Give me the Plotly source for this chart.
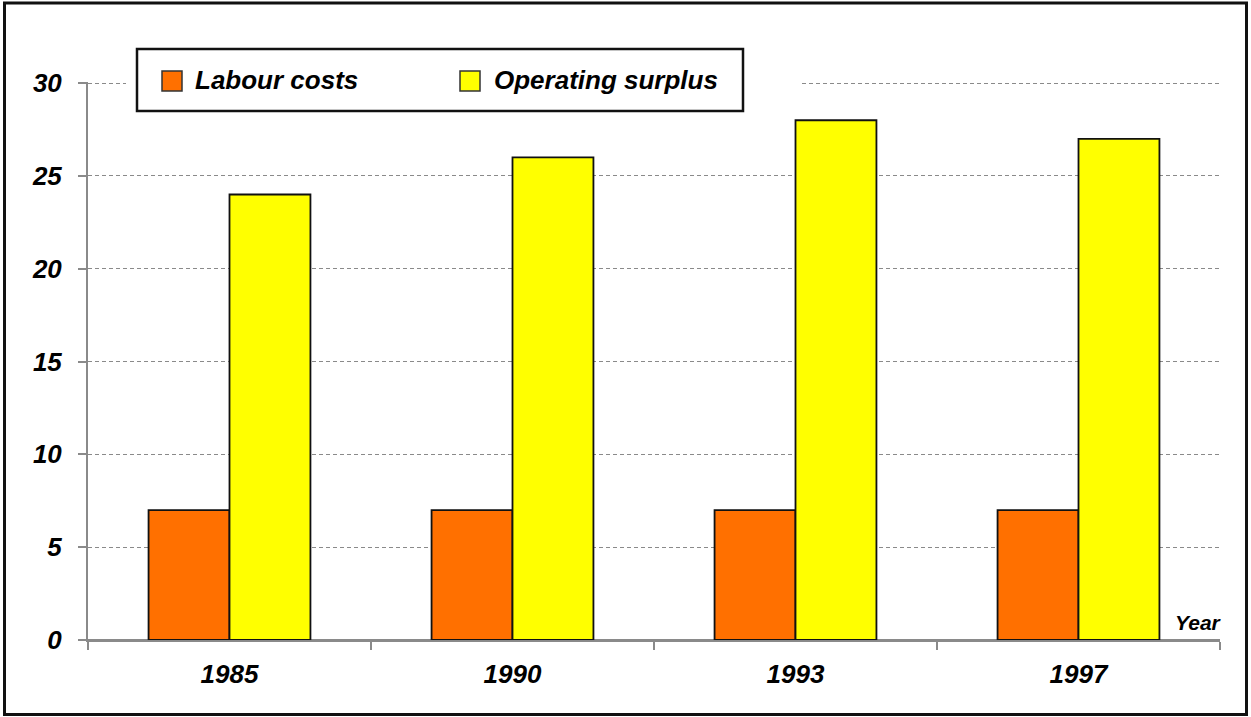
import plotly.graph_objects as go

years = ["1985", "1990", "1993", "1997"]
labour_costs = [7, 7, 7, 7]
operating_surplus = [24, 26, 28, 27]
series_names = ["Labour costs", "Operating surplus"]
y_ticks = [0, 5, 10, 15, 20, 25, 30]

ORANGE = "#FF7000"
YELLOW = "#FFFF00"
FONT = "Liberation Sans, Arial, sans-serif"

W, H = 1251, 717
# plot area in page pixel coordinates
L, R, T, B = 88, 1220, 82, 640


def px_x(p):
    return (p - L) / (R - L)


def px_y(p):
    return (B - p) / (B - T)


fig = go.Figure()
fig.add_trace(go.Bar(x=years, y=labour_costs, name=series_names[0],
                     marker=dict(color=ORANGE, line=dict(color="#111111", width=1.8)),
                     showlegend=False))
fig.add_trace(go.Bar(x=years, y=operating_surplus, name=series_names[1],
                     marker=dict(color=YELLOW, line=dict(color="#111111", width=1.8)),
                     showlegend=False))

tickfont = dict(family=FONT, size=26, color="black", weight="bold", style="italic")

fig.update_layout(
    width=W, height=H,
    margin=dict(l=L, r=W - R, t=T, b=H - B, pad=0),
    paper_bgcolor="white", plot_bgcolor="white",
    barmode="group", bargap=0.428, bargroupgap=0,
    showlegend=False,
    xaxis=dict(
        type="category", range=[-0.5, 3.5],
        showline=True, linecolor="#8a8a8a", linewidth=2,
        ticks="outside", tickson="boundaries", ticklen=8, tickwidth=2, tickcolor="#8a8a8a",
        showgrid=False, tickfont=tickfont, ticklabelstandoff=10,
    ),
    yaxis=dict(
        range=[0, 30.06], tickvals=y_ticks,
        showline=True, linecolor="#8a8a8a", linewidth=2,
        ticks="outside", ticklen=8, tickwidth=1.5, tickcolor="#8a8a8a",
        showgrid=True, gridcolor="#8a8a8a", gridwidth=1.2, griddash="4px,3px",
        zeroline=True, zerolinecolor="#8a8a8a", zerolinewidth=3,
        tickfont=tickfont, ticklabelstandoff=11,
    ),
)

shapes = [
    # outer frame
    dict(type="rect", xref="paper", yref="paper",
         x0=px_x(4.5), x1=px_x(1246.5), y0=px_y(714.5), y1=px_y(3),
         line=dict(color="#111111", width=3), fillcolor="rgba(0,0,0,0)", layer="above"),
    # white padding around the legend
    dict(type="rect", xref="paper", yref="paper",
         x0=px_x(126), x1=px_x(800), y0=px_y(100), y1=px_y(60),
         line=dict(width=0), fillcolor="white", layer="above"),
    # legend box
    dict(type="rect", xref="paper", yref="paper",
         x0=px_x(137), x1=px_x(743), y0=px_y(111), y1=px_y(49),
         line=dict(color="#111111", width=2.5), fillcolor="white", layer="above"),
    # legend keys
    dict(type="rect", xref="paper", yref="paper",
         x0=px_x(162), x1=px_x(182), y0=px_y(91), y1=px_y(71),
         line=dict(color="#333333", width=1.5), fillcolor=ORANGE, layer="above"),
    dict(type="rect", xref="paper", yref="paper",
         x0=px_x(460), x1=px_x(480), y0=px_y(91), y1=px_y(71),
         line=dict(color="#333333", width=1.5), fillcolor=YELLOW, layer="above"),
]

legfont = dict(family=FONT, size=26, color="black", weight="bold", style="italic")
annotations = [
    dict(text=series_names[0], xref="paper", yref="paper", x=px_x(193), y=px_y(80),
         xanchor="left", yanchor="middle", showarrow=False, font=legfont),
    dict(text=series_names[1], xref="paper", yref="paper", x=px_x(492), y=px_y(80),
         xanchor="left", yanchor="middle", showarrow=False, font=legfont),
    dict(text="Year", xref="paper", yref="paper", x=px_x(1224), y=px_y(622),
         xanchor="right", yanchor="middle", showarrow=False,
         font=dict(family=FONT, size=21, color="black", weight="bold", style="italic")),
]
fig.update_layout(shapes=shapes, annotations=annotations)

fig.write_html(
    "out.html",
    config={"displayModeBar": False},
    post_script="document.body.style.margin='0';document.body.style.overflow='hidden';",
)
